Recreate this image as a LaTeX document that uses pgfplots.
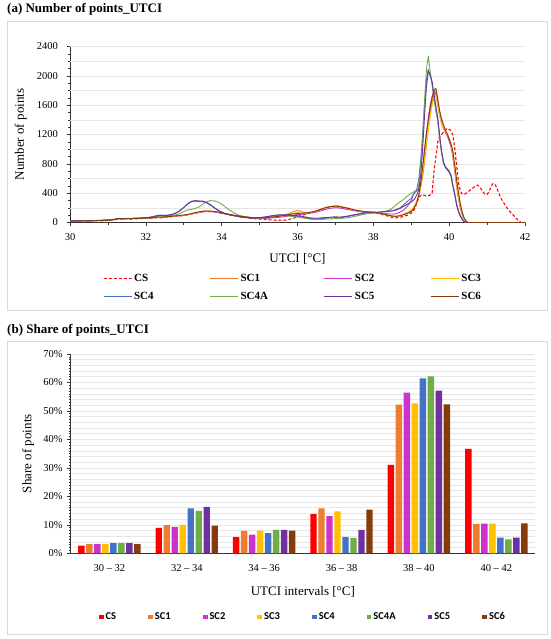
\documentclass[border=0pt]{standalone}
\usepackage{pgfplots}
\pgfplotsset{compat=1.18}
\usepackage{fontspec}
\setmainfont{Liberation Serif}
\newfontfamily\carlito{Carlito}
\definecolor{cCS}{HTML}{FF0000}
\definecolor{cSCa}{HTML}{ED7D31}
\definecolor{cSCb}{HTML}{CC33CC}
\definecolor{cSCc}{HTML}{FFC000}
\definecolor{cSCd}{HTML}{4472C4}
\definecolor{cSCdA}{HTML}{70AD47}
\definecolor{cSCe}{HTML}{7030A0}
\definecolor{cSCf}{HTML}{843C0C}
\definecolor{boxgray}{HTML}{D9D9D9}
\definecolor{gridgray}{HTML}{E6E6E6}
\begin{document}
\begin{tikzpicture}
\useasboundingbox (0pt,0pt) rectangle (550pt,-639pt);
\fill[white] (0pt,0pt) rectangle (550pt,-639pt);
% panel frames and titles
\draw[boxgray, line width=0.8pt] (7pt,-21pt) rectangle (547pt,-310pt);
\draw[boxgray, line width=0.8pt] (7pt,-341pt) rectangle (547pt,-634pt);
\node[anchor=west, inner sep=0pt, font=\bfseries\fontsize{13}{15}\selectfont] at (7pt,-9.5pt) {(a) Number of points\_UTCI};
\node[anchor=west, inner sep=0pt, font=\bfseries\fontsize{13}{15}\selectfont] at (7pt,-330.7pt) {(b) Share of points\_UTCI};

\begin{axis}[
  at={(70pt,-222.5pt)}, anchor=south west, scale only axis,
  width=455pt, height=176pt,
  xmin=30, xmax=42, ymin=0, ymax=2400,
  axis lines=left,
  x axis line style={-}, y axis line style={-},
  axis line style={black!80, line width=0.8pt},
  xtick={30,32,...,42}, minor x tick num=1,
  ytick={0,400,...,2400}, minor y tick num=3,
  extra y ticks={200,600,1000,1400,1800,2200}, extra y tick labels={},
  extra y tick style={major tick length=0pt, grid=major},
  ymajorgrids, major grid style={gridgray, line width=0.6pt},
  tick align=outside, major tick length=3.5pt, minor tick length=2pt,
  tick style={black!80, line width=0.6pt},
  ticklabel style={font=\fontsize{10.5}{12}\selectfont},
  xticklabel style={yshift=-4pt},
  yticklabel style={xshift=-5pt},
  /pgf/number format/assume math mode=true, /pgf/number format/1000 sep={},
  xlabel={UTCI [°C]}, ylabel={Number of points},
  label style={font=\fontsize{13}{15}\selectfont},
  xlabel style={yshift=-6pt},
  ylabel style={yshift=0pt},
  legend columns=4, legend cell align=left,
  legend image code/.code={\draw[#1] (0pt,0pt) -- (28pt,0pt);},
  legend style={draw=none, fill=none, at={(0.49,-0.27)}, anchor=north,
    font=\bfseries\fontsize{11}{13}\selectfont,
    /tikz/every even column/.append style={column sep=54pt},
    /tikz/row sep=5pt},
  every axis plot/.append style={line width=0.9pt, line join=round},
]
\addplot[cCS, line width=1.1pt, dash pattern=on 3pt off 2pt] coordinates {
(30,18)(30.1,20)(30.2,18)(30.3,22)(30.4,20)(30.5,18)(30.6,22)(30.7,24)(30.8,22)(30.9,26)(31,28)(31.1,32)(31.2,40)(31.3,48)(31.4,45)(31.5,50)(31.6,46)(31.7,52)(31.8,50)(31.9,55)(32,56)(32.1,55)(32.2,62)(32.3,66)(32.4,64)(32.5,70)(32.6,74)(32.7,80)(32.8,85)(32.9,90)(33,96)(33.1,105)(33.2,115)(33.3,128)(33.4,138)(33.5,148)(33.6,152)(33.7,150)(33.8,145)(33.9,138)(34,128)(34.1,118)(34.2,106)(34.3,96)(34.4,86)(34.5,76)(34.6,68)(34.7,60)(34.8,55)(34.9,50)(35,48)(35.1,45)(35.2,40)(35.3,35)(35.4,32)(35.5,30)(35.6,35)(35.7,32)(35.8,45)(35.9,60)(36,80)(36.1,95)(36.2,110)(36.3,125)(36.4,140)(36.5,152)(36.6,170)(36.7,190)(36.8,205)(36.9,215)(37,220)(37.1,212)(37.2,200)(37.3,190)(37.4,178)(37.5,165)(37.6,155)(37.7,148)(37.8,142)(37.9,138)(38,132)(38.1,125)(38.2,115)(38.3,100)(38.4,85)(38.5,70)(38.6,62)(38.7,70)(38.8,85)
(38.9,100)(39,130)(39.05,150)(39.1,200)(39.15,270)(39.2,340)(39.25,370)(39.3,380)(39.35,370)(39.4,360)(39.45,365)(39.5,375)(39.55,400)(39.6,700)(39.65,900)(39.7,1100)(39.75,1170)(39.8,1200)(39.85,1230)(39.9,1260)(39.95,1285)(40,1270)(40.05,1250)(40.1,1190)(40.15,1000)(40.2,760)(40.25,530)(40.3,420)(40.35,385)(40.4,385)(40.45,400)(40.5,420)(40.55,440)(40.6,460)(40.65,480)(40.7,500)(40.75,510)(40.8,490)(40.85,450)(40.9,410)(40.95,385)(41,380)(41.05,420)(41.1,480)(41.15,530)(41.2,525)(41.25,480)(41.3,410)(41.35,350)(41.4,300)(41.45,260)(41.5,220)(41.55,180)(41.6,150)(41.65,120)(41.7,95)(41.75,65)(41.8,40)(41.85,15)(41.9,0)(42,0)};
\addlegendentry{CS}
\addplot[cSCa] coordinates {
(30,22)(30.1,20)(30.2,24)(30.3,22)(30.4,25)(30.5,22)(30.6,26)(30.7,28)(30.8,26)(30.9,30)(31,32)(31.1,36)(31.2,45)(31.3,55)(31.4,50)(31.5,54)(31.6,50)(31.7,57)(31.8,55)(31.9,60)(32,62)(32.1,60)(32.2,67)(32.3,72)(32.4,70)(32.5,76)(32.6,80)(32.7,86)(32.8,90)(32.9,94)(33,100)(33.1,108)(33.2,118)(33.3,132)(33.4,142)(33.5,152)(33.6,156)(33.7,154)(33.8,150)(33.9,140)(34,130)(34.1,120)(34.2,110)(34.3,100)(34.4,92)(34.5,84)(34.6,78)(34.7,72)(34.8,66)(34.9,62)(35,60)(35.1,62)(35.2,66)(35.3,72)(35.4,78)(35.5,85)(35.6,95)(35.7,110)(35.8,125)(35.9,150)(36,165)(36.1,150)(36.2,130)(36.3,135)(36.4,145)(36.5,155)(36.6,175)(36.7,195)(36.8,210)(36.9,220)(37,228)(37.1,220)(37.2,208)(37.3,198)(37.4,185)(37.5,170)(37.6,160)(37.7,152)(37.8,146)(37.9,140)(38,138)(38.1,130)(38.2,124)(38.3,112)(38.4,98)(38.5,85)(38.6,82)(38.7,92)(38.8,110)
(38.9,130)(39,160)(39.05,190)(39.1,230)(39.15,290)(39.2,370)(39.25,480)(39.3,620)(39.35,820)(39.4,1050)(39.45,1280)(39.5,1480)(39.55,1640)(39.6,1750)(39.65,1785)(39.7,1650)(39.75,1500)(39.8,1400)(39.85,1320)(39.9,1250)(39.95,1200)(40,1120)(40.05,1060)(40.1,960)(40.15,760)(40.2,560)(40.25,380)(40.3,230)(40.35,120)(40.4,50)(40.45,10)(40.5,0)(42,0)};
\addlegendentry{SC1}
\addplot[cSCb] coordinates {
(30,22)(30.1,24)(30.2,22)(30.3,25)(30.4,24)(30.5,22)(30.6,26)(30.7,27)(30.8,28)(30.9,32)(31,34)(31.1,38)(31.2,46)(31.3,54)(31.4,52)(31.5,55)(31.6,52)(31.7,56)(31.8,57)(31.9,60)(32,63)(32.1,62)(32.2,68)(32.3,70)(32.4,72)(32.5,76)(32.6,80)(32.7,84)(32.8,88)(32.9,92)(33,96)(33.1,104)(33.2,114)(33.3,126)(33.4,136)(33.5,144)(33.6,150)(33.7,148)(33.8,145)(33.9,138)(34,128)(34.1,118)(34.2,108)(34.3,98)(34.4,88)(34.5,80)(34.6,72)(34.7,66)(34.8,60)(34.9,56)(35,54)(35.1,55)(35.2,58)(35.3,62)(35.4,66)(35.5,70)(35.6,76)(35.7,84)(35.8,92)(35.9,100)(36,108)(36.1,112)(36.2,118)(36.3,124)(36.4,132)(36.5,142)(36.6,156)(36.7,172)(36.8,186)(36.9,196)(37,202)(37.1,198)(37.2,190)(37.3,180)(37.4,170)(37.5,160)(37.6,152)(37.7,146)(37.8,142)(37.9,138)(38,135)(38.1,130)(38.2,126)(38.3,122)(38.4,118)(38.5,115)(38.6,120)(38.7,140)(38.8,170)
(38.9,220)(39,300)(39.05,370)(39.1,410)(39.15,430)(39.2,470)(39.25,560)(39.3,720)(39.35,950)(39.4,1200)(39.45,1420)(39.5,1600)(39.55,1720)(39.6,1790)(39.65,1740)(39.7,1600)(39.75,1460)(39.8,1350)(39.85,1280)(39.9,1230)(39.95,1180)(40,1110)(40.05,1030)(40.1,880)(40.15,680)(40.2,480)(40.25,310)(40.3,180)(40.35,95)(40.4,40)(40.45,10)(40.5,0)(42,0)};
\addlegendentry{SC2}
\addplot[cSCc] coordinates {
(30,20)(30.1,22)(30.2,20)(30.3,24)(30.4,22)(30.5,24)(30.6,25)(30.7,26)(30.8,28)(30.9,30)(31,33)(31.1,38)(31.2,44)(31.3,52)(31.4,50)(31.5,53)(31.6,52)(31.7,55)(31.8,56)(31.9,58)(32,60)(32.1,62)(32.2,65)(32.3,70)(32.4,72)(32.5,75)(32.6,78)(32.7,82)(32.8,88)(32.9,92)(33,98)(33.1,105)(33.2,115)(33.3,128)(33.4,140)(33.5,150)(33.6,155)(33.7,155)(33.8,150)(33.9,142)(34,132)(34.1,122)(34.2,112)(34.3,102)(34.4,94)(34.5,86)(34.6,80)(34.7,74)(34.8,68)(34.9,64)(35,62)(35.1,64)(35.2,68)(35.3,74)(35.4,80)(35.5,88)(35.6,96)(35.7,105)(35.8,115)(35.9,125)(36,135)(36.1,130)(36.2,128)(36.3,134)(36.4,145)(36.5,158)(36.6,178)(36.7,198)(36.8,212)(36.9,222)(37,230)(37.1,224)(37.2,212)(37.3,200)(37.4,186)(37.5,172)(37.6,160)(37.7,152)(37.8,146)(37.9,142)(38,138)(38.1,132)(38.2,126)(38.3,115)(38.4,102)(38.5,90)(38.6,85)(38.7,95)(38.8,115)
(38.9,140)(39,170)(39.05,200)(39.1,240)(39.15,300)(39.2,370)(39.25,500)(39.3,680)(39.35,880)(39.4,1080)(39.45,1280)(39.5,1450)(39.55,1600)(39.6,1710)(39.65,1740)(39.7,1600)(39.75,1450)(39.8,1350)(39.85,1290)(39.9,1240)(39.95,1200)(40,1150)(40.05,1060)(40.1,900)(40.15,700)(40.2,500)(40.25,330)(40.3,200)(40.35,110)(40.4,50)(40.45,15)(40.5,0)(42,0)};
\addlegendentry{SC3}
\addplot[cSCd] coordinates {
(30,22)(30.1,24)(30.2,22)(30.3,26)(30.4,24)(30.5,25)(30.6,27)(30.7,28)(30.8,28)(30.9,31)(31,33)(31.1,38)(31.2,46)(31.3,54)(31.4,52)(31.5,56)(31.6,54)(31.7,58)(31.8,58)(31.9,62)(32,66)(32.1,72)(32.2,82)(32.3,96)(32.4,100)(32.5,96)(32.6,102)(32.7,112)(32.8,132)(32.9,165)(33,205)(33.1,250)(33.2,282)(33.3,290)(33.4,285)(33.5,286)(33.6,268)(33.7,238)(33.8,200)(33.9,165)(34,140)(34.1,120)(34.2,105)(34.3,95)(34.4,86)(34.5,76)(34.6,70)(34.7,65)(34.8,60)(34.9,62)(35,65)(35.1,70)(35.2,78)(35.3,86)(35.4,95)(35.5,100)(35.6,100)(35.7,96)(35.8,92)(35.9,88)(36,82)(36.1,76)(36.2,66)(36.3,56)(36.4,50)(36.5,48)(36.6,52)(36.7,56)(36.8,60)(36.9,64)(37,68)(37.1,64)(37.2,70)(37.3,80)(37.4,90)(37.5,100)(37.6,110)(37.7,120)(37.8,130)(37.9,136)(38,138)(38.1,138)(38.2,142)(38.3,146)(38.4,150)(38.5,158)(38.6,175)(38.7,200)(38.8,240)
(38.9,290)(39,330)(39.05,380)(39.1,420)(39.15,460)(39.2,600)(39.25,850)(39.3,1200)(39.35,1600)(39.4,1950)(39.45,2090)(39.5,2000)(39.55,1900)(39.6,1700)(39.65,1550)(39.7,1400)(39.75,1150)(39.8,950)(39.85,810)(39.9,750)(39.95,720)(40,690)(40.05,640)(40.1,500)(40.15,380)(40.2,240)(40.25,150)(40.3,90)(40.35,40)(40.4,10)(40.45,0)(42,0)};
\addlegendentry{SC4}
\addplot[cSCdA] coordinates {
(30,22)(30.1,23)(30.2,22)(30.3,25)(30.4,24)(30.5,24)(30.6,26)(30.7,28)(30.8,28)(30.9,30)(31,33)(31.1,37)(31.2,45)(31.3,54)(31.4,51)(31.5,55)(31.6,53)(31.7,57)(31.8,57)(31.9,61)(32,64)(32.1,68)(32.2,74)(32.3,82)(32.4,86)(32.5,88)(32.6,92)(32.7,98)(32.8,106)(32.9,122)(33,150)(33.1,170)(33.2,178)(33.3,192)(33.4,212)(33.5,250)(33.6,282)(33.7,298)(33.8,296)(33.9,280)(34,250)(34.1,210)(34.2,172)(34.3,138)(34.4,112)(34.5,92)(34.6,80)(34.7,72)(34.8,66)(34.9,64)(35,66)(35.1,70)(35.2,76)(35.3,84)(35.4,92)(35.5,96)(35.6,96)(35.7,92)(35.8,88)(35.9,82)(36,74)(36.1,66)(36.2,56)(36.3,48)(36.4,42)(36.5,40)(36.6,42)(36.7,45)(36.8,48)(36.9,50)(37,52)(37.1,54)(37.2,58)(37.3,64)(37.4,72)(37.5,82)(37.6,94)(37.7,106)(37.8,116)(37.9,124)(38,130)(38.1,136)(38.2,142)(38.3,150)(38.4,165)(38.5,195)(38.6,240)(38.7,280)(38.8,315)
(38.9,360)(39,400)(39.05,415)(39.1,425)(39.15,430)(39.2,520)(39.25,780)(39.3,1150)(39.35,1650)(39.4,2080)(39.45,2270)(39.5,2060)(39.55,1870)(39.6,1680)(39.65,1520)(39.7,1380)(39.75,1150)(39.8,960)(39.85,830)(39.9,765)(39.95,735)(40,705)(40.05,650)(40.1,510)(40.15,380)(40.2,240)(40.25,150)(40.3,85)(40.35,40)(40.4,12)(40.45,0)(42,0)};
\addlegendentry{SC4A}
\addplot[cSCe] coordinates {
(30,21)(30.1,23)(30.2,22)(30.3,25)(30.4,23)(30.5,24)(30.6,26)(30.7,28)(30.8,27)(30.9,30)(31,32)(31.1,37)(31.2,45)(31.3,53)(31.4,51)(31.5,55)(31.6,53)(31.7,57)(31.8,57)(31.9,61)(32,65)(32.1,70)(32.2,80)(32.3,94)(32.4,98)(32.5,95)(32.6,100)(32.7,110)(32.8,130)(32.9,160)(33,205)(33.1,255)(33.2,290)(33.3,298)(33.4,294)(33.5,292)(33.6,274)(33.7,245)(33.8,205)(33.9,170)(34,142)(34.1,122)(34.2,106)(34.3,96)(34.4,87)(34.5,78)(34.6,72)(34.7,67)(34.8,62)(34.9,64)(35,67)(35.1,72)(35.2,80)(35.3,90)(35.4,98)(35.5,104)(35.6,106)(35.7,104)(35.8,100)(35.9,96)(36,92)(36.1,86)(36.2,76)(36.3,66)(36.4,60)(36.5,58)(36.6,62)(36.7,66)(36.8,70)(36.9,74)(37,78)(37.1,74)(37.2,78)(37.3,86)(37.4,96)(37.5,106)(37.6,116)(37.7,126)(37.8,134)(37.9,140)(38,142)(38.1,140)(38.2,144)(38.3,150)(38.4,156)(38.5,160)(38.6,170)(38.7,190)(38.8,220)
(38.9,250)(39,280)(39.05,300)(39.1,330)(39.15,380)(39.2,450)(39.25,650)(39.3,1000)(39.35,1450)(39.4,1850)(39.45,2060)(39.5,2010)(39.55,1920)(39.6,1750)(39.65,1580)(39.7,1420)(39.75,1180)(39.8,970)(39.85,820)(39.9,755)(39.95,725)(40,690)(40.05,630)(40.1,490)(40.15,370)(40.2,230)(40.25,140)(40.3,80)(40.35,35)(40.4,8)(40.45,0)(42,0)};
\addlegendentry{SC5}
\addplot[cSCf] coordinates {
(30,20)(30.1,22)(30.2,21)(30.3,23)(30.4,24)(30.5,23)(30.6,25)(30.7,27)(30.8,27)(30.9,29)(31,31)(31.1,36)(31.2,44)(31.3,56)(31.4,52)(31.5,55)(31.6,52)(31.7,56)(31.8,56)(31.9,59)(32,61)(32.1,61)(32.2,66)(32.3,71)(32.4,71)(32.5,77)(32.6,80)(32.7,85)(32.8,91)(32.9,96)(33,102)(33.1,110)(33.2,120)(33.3,134)(33.4,144)(33.5,154)(33.6,157)(33.7,155)(33.8,151)(33.9,141)(34,131)(34.1,121)(34.2,111)(34.3,101)(34.4,93)(34.5,85)(34.6,78)(34.7,72)(34.8,67)(34.9,63)(35,61)(35.1,63)(35.2,67)(35.3,72)(35.4,78)(35.5,84)(35.6,92)(35.7,100)(35.8,110)(35.9,118)(36,125)(36.1,126)(36.2,130)(36.3,136)(36.4,146)(36.5,160)(36.6,178)(36.7,196)(36.8,210)(36.9,218)(37,224)(37.1,218)(37.2,208)(37.3,198)(37.4,186)(37.5,172)(37.6,162)(37.7,154)(37.8,148)(37.9,142)(38,138)(38.1,132)(38.2,124)(38.3,112)(38.4,98)(38.5,88)(38.6,84)(38.7,92)(38.8,108)
(38.9,125)(39,150)(39.05,180)(39.1,220)(39.15,280)(39.2,380)(39.25,540)(39.3,760)(39.35,1000)(39.4,1220)(39.45,1400)(39.5,1560)(39.55,1700)(39.6,1800)(39.65,1830)(39.7,1680)(39.75,1520)(39.8,1410)(39.85,1330)(39.9,1260)(39.95,1210)(40,1140)(40.05,1070)(40.1,960)(40.15,770)(40.2,570)(40.25,390)(40.3,240)(40.35,130)(40.4,55)(40.45,15)(40.5,0)(42,0)};
\addlegendentry{SC6}
\end{axis}

\begin{axis}[
  at={(70.7pt,-553.3pt)}, anchor=south west, scale only axis,
  width=464.3pt, height=199.3pt,
  xmin=-0.5, xmax=5.5, ymin=0, ymax=70,
  axis lines=left,
  x axis line style={-}, y axis line style={-},
  axis line style={black!80, line width=0.8pt},
  ybar=1.6pt, bar width=6.4pt,
  xtick={0,...,5},
  xticklabels={30 – 32, 32 – 34, 34 – 36, 36 – 38, 38 – 40, 40 – 42},
  x tick style={draw=none},
  ytick={0,10,...,70}, minor y tick num=9,
  extra y ticks={2,4,6,8,12,14,16,18,22,24,26,28,32,34,36,38,42,44,46,48,52,54,56,58,62,64,66,68},
  extra y tick labels={},
  extra y tick style={major tick length=0pt, grid=major},
  ymajorgrids, major grid style={gridgray, line width=0.6pt},
  tick align=outside, major tick length=3.5pt, minor tick length=2pt,
  y tick style={black!80, line width=0.6pt},
  yticklabel={\pgfmathprintnumber{\tick}\%},
  ticklabel style={font=\fontsize{10.5}{12}\selectfont},
  xticklabel style={yshift=-4pt},
  yticklabel style={xshift=-1pt},
  /pgf/number format/assume math mode=true,
  xlabel={UTCI intervals [°C]}, ylabel={Share of points},
  label style={font=\fontsize{13}{15}\selectfont},
  xlabel style={yshift=-8pt},
  ylabel style={yshift=-1pt},
  legend columns=8,
  legend image code/.code={\fill[#1] (0pt,-2.4pt) rectangle (4.8pt,2.4pt);},
  legend style={draw=none, fill=none, at={(0.5,-0.32)}, anchor=center,
    font=\carlito\bfseries\fontsize{10.5}{12}\selectfont,
    /tikz/every even column/.append style={column sep=30pt}},
]
\addplot[fill=cCS, draw=none] coordinates {(0,2.7)(1,8.9)(2,5.7)(3,13.8)(4,31.1)(5,36.7)};
\addlegendentry{CS}
\addplot[fill=cSCa, draw=none] coordinates {(0,3.2)(1,9.9)(2,7.9)(3,15.8)(4,52.2)(5,10.3)};
\addlegendentry{SC1}
\addplot[fill=cSCb, draw=none] coordinates {(0,3.2)(1,9.3)(2,6.6)(3,13.1)(4,56.4)(5,10.4)};
\addlegendentry{SC2}
\addplot[fill=cSCc, draw=none] coordinates {(0,3.2)(1,10.0)(2,8.0)(3,14.7)(4,52.7)(5,10.4)};
\addlegendentry{SC3}
\addplot[fill=cSCd, draw=none] coordinates {(0,3.6)(1,15.8)(2,7.1)(3,5.7)(4,61.4)(5,5.5)};
\addlegendentry{SC4}
\addplot[fill=cSCdA, draw=none] coordinates {(0,3.6)(1,14.9)(2,8.2)(3,5.4)(4,62.1)(5,4.9)};
\addlegendentry{SC4A}
\addplot[fill=cSCe, draw=none] coordinates {(0,3.6)(1,16.3)(2,8.2)(3,8.2)(4,57.1)(5,5.5)};
\addlegendentry{SC5}
\addplot[fill=cSCf, draw=none] coordinates {(0,3.2)(1,9.7)(2,8.0)(3,15.3)(4,52.3)(5,10.5)};
\addlegendentry{SC6}
\end{axis}
\end{tikzpicture}
\end{document}
